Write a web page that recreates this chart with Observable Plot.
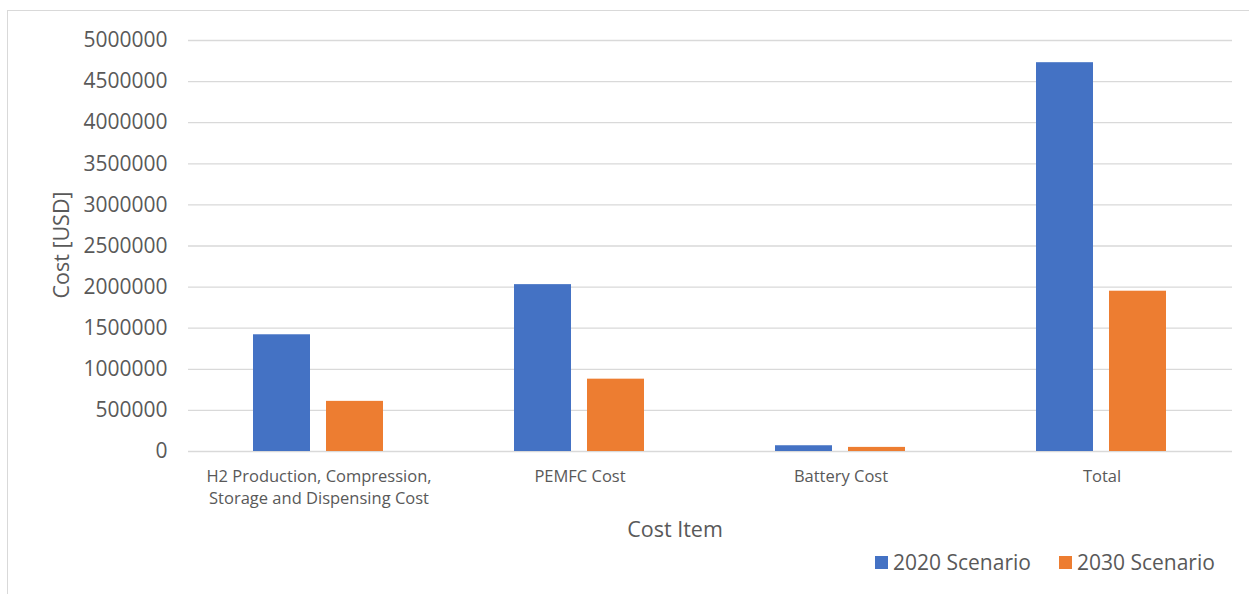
<!DOCTYPE html>
<html>
<head>
<meta charset="utf-8">
<script src="https://cdn.jsdelivr.net/npm/d3@7"></script>
<script src="https://cdn.jsdelivr.net/npm/@observablehq/plot@0.6"></script>
<style>
  html, body { margin: 0; padding: 0; background: #fff; width: 1249px; height: 594px; overflow: hidden; font-family: "Open Sans", sans-serif; }
  #frame { position: absolute; left: 7px; top: 10px; width: 1300px; height: 700px; border: 1px solid #d9d9d9; box-sizing: border-box; }
  #chart { position: absolute; left: 0; top: 0; }
  .title { position: absolute; color: #595959; font-size: 21.5px; white-space: nowrap; }
  #ytitle { left: 60px; top: 245px; transform: translate(-50%, -50%) rotate(-90deg); }
  #xtitle { left: 675px; top: 528px; transform: translate(-50%, -50%); }
  #legend { position: absolute; left: 875px; top: 548px; display: flex; align-items: center; color: #595959; font-size: 21px; white-space: nowrap; }
  .sw { display: inline-block; width: 13px; height: 13px; margin-right: 5px; }
  .item { display: flex; align-items: center; margin-right: 28px; }
</style>
</head>
<body>
<div id="frame"></div>
<div id="chart"></div>
<div id="ytitle" class="title">Cost [USD]</div>
<div id="xtitle" class="title">Cost Item</div>
<div id="legend"></div>
<script>
const categories = ["H2 Production, Compression, Storage and Dispensing Cost", "PEMFC Cost", "Battery Cost", "Total"];
const categoryLabels = ["H2 Production, Compression,\nStorage and Dispensing Cost", "PEMFC Cost", "Battery Cost", "Total"];
const scenarios = ["2020 Scenario", "2030 Scenario"];
const values2020 = [1420000, 2030000, 70000, 4730000];
const values2030 = [610000, 880000, 50000, 1950000];
const colors = ["#4472C4", "#ED7D31"];
const yTicks = [0, 500000, 1000000, 1500000, 2000000, 2500000, 3000000, 3500000, 4000000, 4500000, 5000000];

const data = [];
categories.forEach((c, i) => {
  data.push({category: c, scenario: scenarios[0], value: values2020[i]});
  data.push({category: c, scenario: scenarios[1], value: values2030[i]});
});

const chart = Plot.plot({
  width: 1249,
  height: 540,
  marginLeft: 187,
  marginRight: 17,
  marginTop: 40,
  marginBottom: 89,
  style: {fontFamily: "'Open Sans', sans-serif", color: "#595959", background: "transparent"},
  fx: {domain: categories, paddingInner: 0, paddingOuter: 0},
  x: {domain: scenarios, paddingInner: 0.216, paddingOuter: 0.873, axis: null},
  y: {domain: [0, 5000000]},
  color: {domain: scenarios, range: colors},
  marks: [
    Plot.gridY(yTicks, {stroke: "#d9d9d9", strokeOpacity: 1, strokeWidth: 1.3}),
    Plot.axisY(yTicks, {tickSize: 0, tickPadding: 21, fontSize: 21, tickFormat: d => String(d), label: null, fill: "#595959"}),
    Plot.axisFx({anchor: "bottom", tickSize: 0, tickPadding: 14, fontSize: 16.5, lineHeight: 1.38, label: null, fill: "#595959",
      tickFormat: d => categoryLabels[categories.indexOf(d)]}),
    Plot.barY(data, {fx: "category", x: "scenario", y: "value", fill: "scenario"})
  ]
});
document.getElementById("chart").appendChild(chart);

const legend = document.getElementById("legend");
scenarios.forEach((s, i) => {
  const item = document.createElement("div");
  item.className = "item";
  const sw = document.createElement("span");
  sw.className = "sw";
  sw.style.background = colors[i];
  const t = document.createElement("span");
  t.textContent = s;
  item.appendChild(sw);
  item.appendChild(t);
  legend.appendChild(item);
});
</script>
</body>
</html>
